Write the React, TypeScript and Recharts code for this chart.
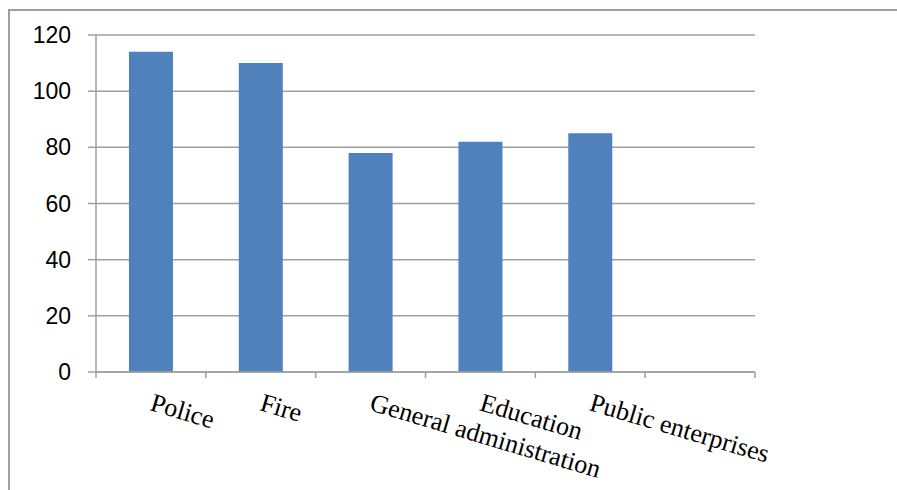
import React from 'react';
import { BarChart, Bar, XAxis, YAxis, CartesianGrid } from 'recharts';

// Employees by department (last slot intentionally left blank)
const categories = ['Police', 'Fire', 'General administration', 'Education', 'Public enterprises', ''];
const employees: (number | null)[] = [114, 110, 78, 82, 85, null];
const yTicks = [0, 20, 40, 60, 80, 100, 120];

const data = categories.map((name, i) => ({ name, value: employees[i] }));

const LINE = '#9f9f9f';
const BAR = '#4f81bd';
const TICK_LEN = 6;

// Category label, rotated down to the right, plus tick marks on the slot boundaries
function CategoryTick(props: any) {
  const { x, y, payload, index } = props;
  const half = payload?.offset ?? 0;
  const isLast = index === categories.length - 1;
  const bx = x - 2;
  const by = y + 38;
  return (
    <g>
      <line x1={x - half} x2={x - half} y1={y} y2={y + TICK_LEN} stroke={LINE} strokeWidth={1.5} />
      {isLast && (
        <line x1={x + half} x2={x + half} y1={y} y2={y + TICK_LEN} stroke={LINE} strokeWidth={1.5} />
      )}
      {payload?.value ? (
        <text
          x={bx}
          y={by}
          textAnchor="start"
          transform={`rotate(16.5 ${bx} ${by})`}
          fontFamily='"Liberation Serif", "Times New Roman", serif'
          fontSize={26}
          fill="#000"
        >
          {payload.value}
        </text>
      ) : null}
    </g>
  );
}

export default function App() {
  return (
    <div style={{ position: 'relative', width: 897, height: 490, background: '#fff' }}>
      <style>{'html,body{margin:0;padding:0;overflow:hidden;background:#fff}'}</style>
      <div
        style={{
          position: 'absolute',
          left: 8,
          top: 9,
          width: 889,
          height: 481,
          borderTop: `2px solid ${LINE}`,
          borderLeft: `2px solid ${LINE}`,
          boxSizing: 'border-box',
        }}
      />
      <div style={{ position: 'absolute', left: 0, top: 0 }}>
        <BarChart
          width={897}
          height={490}
          data={data}
          margin={{ top: 35, right: 142, left: 0, bottom: 0 }}
          barCategoryGap="30%"
        >
          <CartesianGrid vertical={false} stroke={LINE} strokeWidth={1.5} />
          <XAxis
            dataKey="name"
            interval={0}
            height={118}
            axisLine={{ stroke: LINE, strokeWidth: 1.5 }}
            tickLine={false}
            tickSize={0}
            tickMargin={0}
            tick={<CategoryTick />}
          />
          <YAxis
            width={96}
            domain={[0, 120]}
            ticks={yTicks}
            interval={0}
            tickSize={8}
            tickMargin={17}
            axisLine={{ stroke: LINE, strokeWidth: 1.5 }}
            tickLine={{ stroke: LINE, strokeWidth: 1.5 }}
            tick={{
              fill: '#000',
              fontSize: 23,
              fontFamily: '"Liberation Sans", Arial, sans-serif',
            }}
          />
          <Bar dataKey="value" fill={BAR} isAnimationActive={false} />
        </BarChart>
      </div>
    </div>
  );
}
